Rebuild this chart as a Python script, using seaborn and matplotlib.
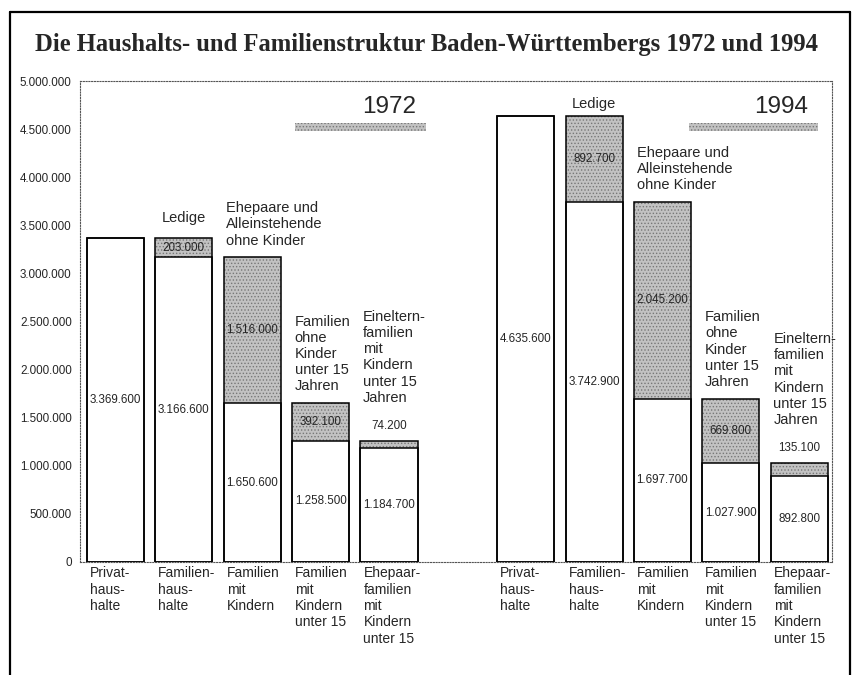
import numpy as np
import pandas as pd
import matplotlib
matplotlib.use("Agg")
import matplotlib.pyplot as plt
import matplotlib.transforms as mtransforms
from matplotlib.patches import Rectangle
from matplotlib.lines import Line2D
from matplotlib.ticker import FuncFormatter, MultipleLocator
import seaborn as sns

# ---------------- data ----------------
title = "Die Haushalts- und Familienstruktur Baden-Württembergs 1972 und 1994"
years = ["1972", "1994"]
categories = [
    "Privat-\nhaus-\nhalte",
    "Familien-\nhaus-\nhalte",
    "Familien\nmit\nKindern",
    "Familien\nmit\nKindern\nunter 15",
    "Ehepaar-\nfamilien\nmit\nKindern\nunter 15",
]
segment_names = [
    "",
    "Ledige",
    "Ehepaare und\nAlleinstehende\nohne Kinder",
    "Familien\nohne\nKinder\nunter 15\nJahren",
    "Eineltern-\nfamilien\nmit\nKindern\nunter 15\nJahren",
]
white_1972 = [3369600, 3166600, 1650600, 1258500, 1184700]
gray_1972 = [0, 203000, 1516000, 392100, 74200]
white_1994 = [4635600, 3742900, 1697700, 1027900, 892800]
gray_1994 = [0, 892700, 2045200, 669800, 135100]

# ---------------- layout / style ----------------
W = 0.835
GRAY = "#c2c2c2"
HATCH_C = "#777777"
gray_label_above = [False, False, False, False, True]

rows = []
for g, (yr, wv, gv) in enumerate([(years[0], white_1972, gray_1972), (years[1], white_1994, gray_1994)]):
    for i, cat in enumerate(categories):
        rows.append(dict(year=yr, idx=i, pos=g * 6 + i, cat=cat,
                         white=wv[i], gray=gv[i], total=wv[i] + gv[i]))
df = pd.DataFrame(rows)

sns.set_style("white")
plt.rcParams["font.family"] = ["Liberation Sans", "DejaVu Sans"]
plt.rcParams["hatch.linewidth"] = 0.6

fig = plt.figure(figsize=(8.54, 6.75), dpi=100)
ax = fig.add_axes([80 / 854, 113 / 675, 752 / 854, 481 / 675])

# gray (total) bars with stipple
sns.barplot(data=df, x="pos", y="total", native_scale=True, width=W, color=GRAY,
            saturation=1, edgecolor=HATCH_C, linewidth=0, hatch=".....",
            errorbar=None, ax=ax)
# white bottom segments
sns.barplot(data=df, x="pos", y="white", native_scale=True, width=W, color="white",
            saturation=1, edgecolor="black", linewidth=1.1, errorbar=None, ax=ax)
# outlines of total bars
sns.barplot(data=df, x="pos", y="total", native_scale=True, width=W, fill=False,
            color="black", linewidth=1.1, errorbar=None, ax=ax)

ax.set_xlim(-0.519, 10.48)
ax.set_ylim(0, 5_000_000)
ax.set_xlabel("")
ax.set_ylabel("")

fmt = lambda v: f"{int(round(v)):,}".replace(",", ".")
ax.yaxis.set_major_locator(MultipleLocator(500_000))
ax.yaxis.set_major_formatter(FuncFormatter(lambda v, _: fmt(v)))
ax.tick_params(axis="y", length=3, width=0.8, pad=3, labelsize=8.4, color="#333")

ax.set_xticks(df["pos"])
ax.set_xticklabels(df["cat"], ha="left", va="top", fontsize=10, linespacing=1.22)
ax.tick_params(axis="x", length=0, pad=3)
off = mtransforms.ScaledTranslation(-25.5 / 100, 0, fig.dpi_scale_trans)
for lab in ax.get_xticklabels():
    lab.set_transform(lab.get_transform() + off)

for s in ax.spines.values():
    s.set_visible(True)
    s.set_linestyle((0, (1, 1.5)))
    s.set_color("#555555")
    s.set_linewidth(0.8)

# value labels
for _, r in df.iterrows():
    ax.text(r.pos, r.white / 2, fmt(r.white), ha="center", va="center", fontsize=8.4, zorder=5)
    if r.gray > 0:
        if gray_label_above[r.idx]:
            ax.annotate(fmt(r.gray), (r.pos, r.total), xytext=(0, 11), textcoords="offset points",
                        ha="center", va="center", fontsize=8.4)
        else:
            ax.text(r.pos, r.white + r.gray / 2, fmt(r.gray), ha="center", va="center",
                    fontsize=8.4, zorder=5)

# segment name annotations
for _, r in df.iterrows():
    name = segment_names[r.idx]
    if not name:
        continue
    if r.idx == 1:
        dy = 14 if r.year == "1972" else 9
        ax.annotate(name, (r.pos, r.total), xytext=(0, dy), textcoords="offset points",
                    ha="center", va="center", fontsize=10.5)
    else:
        dy = 26 if gray_label_above[r.idx] else 7
        ax.annotate(name, (r.pos - W / 2, r.total), xytext=(2, dy), textcoords="offset points",
                    ha="left", va="bottom", fontsize=10.5, linespacing=1.2)

# year captions with stippled strip
for yr, x0, x1 in [("1972", 2.63, 4.54), ("1994", 8.39, 10.28)]:
    ax.add_patch(Rectangle((x0, 4_480_000), x1 - x0, 85_000, facecolor=GRAY, edgecolor=HATCH_C,
                           linewidth=0, hatch="....."))
    ax.text(x1 - 0.15, 4_730_000, yr, ha="right", va="center", fontsize=17.5)

fig.text(0.5, 1 - 44 / 675, title, ha="center", va="center", fontsize=17.7,
         fontweight="bold", family="Liberation Serif")

# outer frame
fx0, fx1, fy = 10 / 854, 850 / 854, 1 - 12 / 675
for xs, ys in [([fx0, fx0], [0, fy]), ([fx0, fx1], [fy, fy]), ([fx1, fx1], [fy, 0])]:
    fig.add_artist(Line2D(xs, ys, transform=fig.transFigure, color="black", linewidth=1.6))

fig.savefig("out.png", dpi=100)
